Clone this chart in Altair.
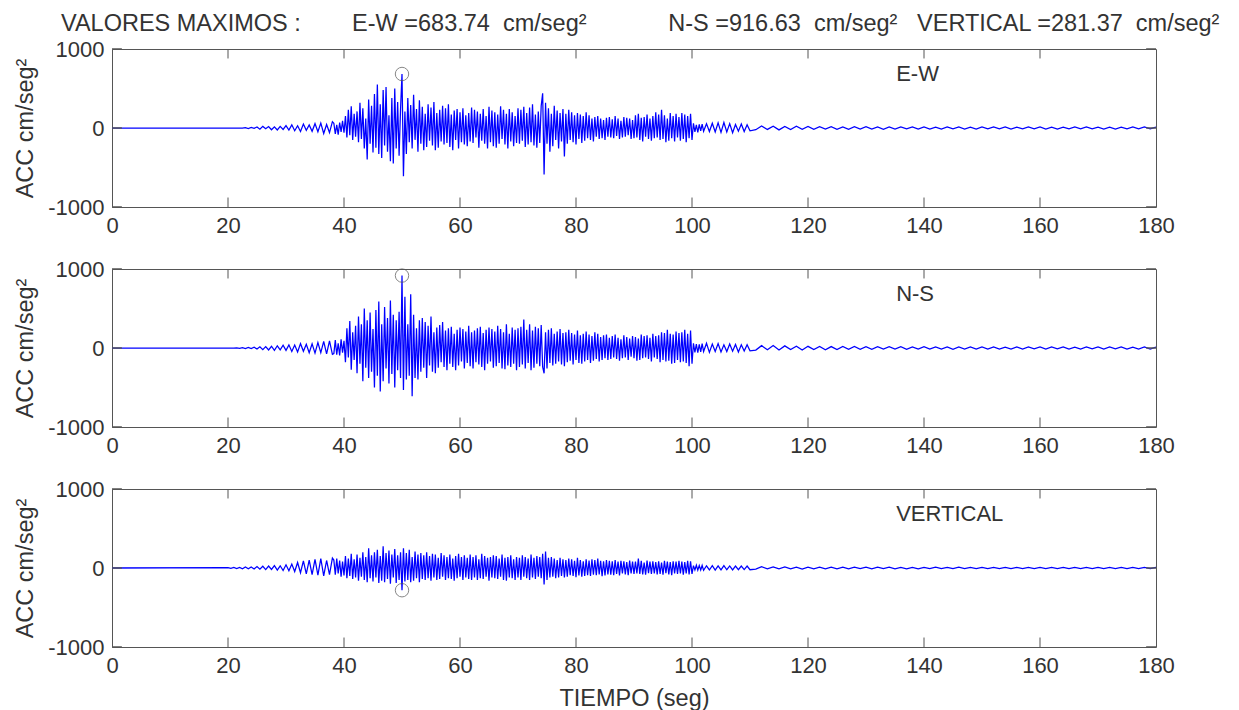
import altair as alt
import pandas as pd

# ---------------- data ----------------
# sampling grid: t=0; every 0.5 s from 20 to 38 s; every 0.25 s from 38.25 to 102 s;
# every 0.5 s from 102.5 to 110 s; every 1 s from 111 to 180 s
T = ([0.0]
     + [20 + 0.5 * i for i in range(37)]
     + [38.25 + 0.25 * i for i in range(256)]
     + [102.5 + 0.5 * i for i in range(16)]
     + [float(s) for s in range(111, 181)])

# ---- E-W ----
EW_PRE = [0, 0, 0, 0, 0, 0, 5, -6, 8, -5, 12, -15, 20, -10, 18, -22,
          15, -25, 20, -18, 30, -25, 40, -35, 28, -45, 50, -30, 38, -42,
          55, -48, 62, -70, 45, -58, 80]
EW_MAIN = [
    60, -75, 40, -85, 70, -50, 90, -60, 150, -120, 230, -90, 275, -150, 180, -110,
    210, -180, 320, -140, 250, -260, 120, -400, 360, -200, 280, -310, 430, -250, 550, -330,
    300, -380, 480, -220, 520, -300, 160, -420, 380, -450, 500, -260, 330, -350, 240, 683.74,
    -610, 210, -330, 380, -180, 290, -260, 420, -150, 240, -300, 350, -200, 270, -280, 180,
    -240, 300, -160, 260, -220, 330, -280, 190, -250, 230, -170, 280, -210, 250, -190, 300,
    -240, 170, -280, 220, -150, 240, -260, 200, -180, 250, -210, 160, -230, 190, -170, 260,
    -190, 230, -120, 210, -250, 180, -160, 240, -200, 150, -260, 270, -180, 220, -230, 200,
    -250, 170, -200, 275, -140, 230, -210, 180, -260, 240, -170, 200, -230, 150, -190, 250,
    -200, 230, -160, 270, -240, 190, -210, 260, -180, 300, -220, 170, -250, 210, -190, 280,
    440, -590, 320, -200, 250, -300, 180, -230, 280, -150, 220, -260, 190, -170, 240, -360,
    180, -200, 230, -150, 200, -180, 160, -210, 190, -140, 170, -190, 150, -160, 200, -130,
    160, -150, 120, -170, 140, -110, 150, -140, 120, -130, 100, -150, 130, -110, 140, -120,
    110, -130, 150, -100, 120, -140, 90, -120, 140, -110, 130, -90, 120, -140, 100, -130,
    160, -120, 180, -150, 130, -170, 140, -110, 170, -140, 120, -160, 150, -130, 200, -120,
    170, -150, 230, -140, 160, -180, 120, -160, 190, -130, 150, -170, 180, -120, 140, -160,
    190, -140, 170, -180, 150, -130, 180, -150, 60, -50, 40, -55, 45, -35, 50, -40]
EW_POST = [55, -45, 60, -50, 65, -55, 70, -50, 55, -60, 45, -40, 50, -45, 40, -35]
EW_TAIL = [-22, 25, -18, 22, -24, 19, -20, 22, -17, 19,
           -18, 17, -15, 18, -16, 15, -17, 16, -14, 17,
           -15, 13, -16, 14, -13, 15, -12, 14, -15, 13,
           -13, 12, -14, 13, -12, 14, -13, 12, -13, 15,
           -12, 13, -11, 13, -14, 12, -11, 13, -12, 13,
           -13, 12, -13, 11, -12, 13, -11, 13, -12, 11,
           -13, 12, -13, 11, -12, 13, -11, 13, -12, 11]

# ---- N-S ----
NS_PRE = [0, 0, 0, 3, -4, 5, -6, 8, -7, 10, -12, 15, -20, 18, -25, 22,
          -30, 28, -24, 35, -30, 40, -45, 38, -50, 55, -42, 48, -60, 52,
          -65, 70, -58, 85, -75, 90, -80]
NS_MAIN = [
    -70, 100, -85, 60, -95, 110, -60, 90, -180, 250, -120, 340, -275, 200, -150, 280,
    -320, 400, -200, 300, -420, 500, -250, 350, -380, 450, -300, 240, -500, 480, -350, 590,
    -550, 300, -420, 520, -260, 380, -450, 600, -330, 420, -500, 350, -280, 460, -380, 916.63,
    -530, 650, -400, 300, -350, 680, -610, 420, -380, 250, -400, 350, -300, 380, -250, 330,
    -380, 280, -220, 400, -300, 200, -320, 260, -250, 290, -180, 330, -240, 220, -280, 250,
    -200, 270, -240, 180, -280, 230, -220, 260, -170, 240, -260, 210, -190, 280, -230, 200,
    -260, 220, -180, 250, -210, 270, -240, 190, -280, 230, -200, 260, -170, 240, -250, 210,
    -230, 280, -190, 240, -260, 200, -270, 300, -220, 180, -240, 260, -200, 230, -280, 250,
    -240, 270, -210, 360, -260, 230, -190, 300, -280, 220, -250, 270, -200, 250, -230, 290,
    -240, -320, 200, -260, 230, -190, 250, -220, 180, -200, 210, -170, 240, -210, 190, -230,
    200, -180, 230, -160, 190, -210, 170, -150, 220, -190, 160, -200, 180, -170, 210, -150,
    170, -190, 150, -160, 200, -140, 180, -170, 140, -150, 160, -130, 170, -150, 130, -140,
    150, -120, 170, -140, 130, -160, 110, -130, 160, -120, 140, -150, 120, -110, 150, -130,
    140, -160, 120, -150, 170, -130, 150, -120, 160, -140, 130, -170, 180, -120, 150, -140,
    160, -180, 200, -150, 190, -170, 230, -160, 180, -200, 170, -190, 210, -150, 190, -180,
    200, -170, 230, -190, 180, -230, 220, -200, 60, -55, 50, -60, 45, -50, 55, -45]
NS_POST = [60, -55, 50, -45, 55, -50, 40, -45, 50, -40, 45, -50, 40, -38, 42, -35]
NS_TAIL = [-26, 30, -22, 32, -24, 27, -19, 22, -25, 21,
           -20, 19, -22, 18, -19, 21, -16, 19, -18, 16,
           -16, 18, -15, 17, -14, 16, -17, 14, -15, 17,
           -14, 15, -13, 15, -16, 13, -14, 13, -15, 14,
           -13, 14, -15, 12, -13, 15, -13, 14, -12, 13,
           -14, 13, -12, 15, -13, 12, -14, 13, -12, 13,
           -13, 14, -12, 13, -15, 12, -13, 14, -13, 12]

# ---- VERTICAL ----
VT_PRE = [4, -5, 6, -8, 7, -10, 12, -9, 14, -12, 18, -15, 22, -20, 25, -18,
          30, -26, 28, -32, 40, -35, 50, -45, 70, -60, 90, -75, 100, -85,
          110, -90, 120, -100, 95, -85, 125]
VT_MAIN = [
    100, -85, 120, -70, 95, -110, 80, -95, 150, -130, 120, -100, 180, -140, 110, -120,
    170, -160, 130, -110, 200, -150, 140, -180, 250, -130, 160, -170, 200, -120, 230, -190,
    150, -160, 275, -180, 190, -140, 220, -200, 170, -120, 240, -190, 160, -150, 200, -281.37,
    250, -170, 190, -150, 230, -180, 140, -160, 210, -130, 170, -180, 190, -140, 160, -150,
    200, -130, 150, -160, 180, -120, 170, -150, 130, -140, 190, -110, 160, -150, 140, -130,
    170, -140, 120, -160, 150, -130, 180, -110, 140, -150, 160, -120, 130, -140, 170, -150,
    140, -120, 160, -150, 110, -130, 180, -140, 150, -110, 130, -160, 140, -120, 160, -130,
    150, -140, 120, -110, 170, -150, 130, -160, 140, -120, 160, -130, 110, -150, 140, -120,
    130, -150, 160, -110, 140, -130, 120, -150, 170, -120, 130, -140, 150, -110, 140, -130,
    180, -210, 210, -150, 130, -120, 140, -110, 120, -130, 100, -120, 130, -100, 110, -120,
    100, -110, 120, -90, 110, -100, 90, -115, 130, -95, 100, -110, 85, -100, 110, -90,
    95, -100, 110, -85, 100, -90, 120, -80, 90, -105, 85, -95, 100, -80, 90, -85,
    85, -90, 100, -75, 80, -95, 90, -70, 85, -80, 75, -90, 95, -70, 80, -75,
    80, -70, 120, -75, 90, -80, 70, -85, 95, -65, 80, -75, 85, -70, 75, -80,
    85, -75, 70, -85, 90, -65, 80, -80, 75, -90, 85, -70, 80, -75, 90, -70,
    80, -85, 75, -70, 90, -80, 85, -75, 30, -25, 35, -28, 30, -25, 32, -30]
VT_POST = [28, -25, 30, -26, 28, -24, 30, -22, 26, -25, 24, -22, 25, -20, 24, -22]
VT_TAIL = [-14, 16, -12, 15, -11, 14, -12, 11, -13, 12,
           -11, 12, -10, 12, -10, 11, -12, 10, -9, 11,
           -10, 10, -9, 11, -10, 8, -10, 9, -10, 8,
           -9, 10, -8, 9, -8, 10, -9, 8, -8, 9,
           -8, 8, -9, 7, -8, 8, -7, 8, -8, 7,
           -8, 8, -7, 8, -8, 7, -8, 7, -7, 8,
           -7, 8, -7, 7, -8, 7, -7, 8, -7, 7]

EW = [0] + EW_PRE + EW_MAIN + EW_POST + EW_TAIL
NS = [0] + NS_PRE + NS_MAIN + NS_POST + NS_TAIL
VT = [0] + VT_PRE + VT_MAIN + VT_POST + VT_TAIL

COMPONENTS = ["E-W", "N-S", "VERTICAL"]
SERIES = [EW, NS, VT]
PEAK_T = [50.0, 50.0, 50.0]
PEAK_V = [683.74, 916.63, -281.37]

HEADER_TEXT = ["VALORES MAXIMOS :",
               "E-W =683.74\u00a0\u00a0cm/seg²",
               "N-S =916.63\u00a0\u00a0cm/seg²",
               "VERTICAL =281.37\u00a0\u00a0cm/seg²"]
HEADER_T = [-8.8, 41.4, 95.9, 138.8]
HEADER_Y = 1316
LABEL_T = 135.2
LABEL_Y = 680

X_TICKS = list(range(0, 181, 20))
Y_TICKS = [-1000, 0, 1000]
TICK_LEN_Y = 120    # in cm/seg² units
TICK_LEN_X = 1.7    # in seconds

for s in SERIES:
    assert len(s) == len(T), (len(s), len(T))

# ---------------- style ----------------
FONT = "Liberation Sans"
TXT = "#333333"
FRAME = "#555555"
BLUE = "#0000ff"
W, H = 1044, 158
FS = 22
FS_TITLE = 23.5

xscale = alt.Scale(domain=[0, 180], nice=False, zero=False)
yscale = alt.Scale(domain=[-1000, 1000], nice=False)


def panel(name, vals, pt, pv, bottom, top):
    df = pd.DataFrame({"t": T, "acc": vals})
    xaxis = alt.Axis(values=X_TICKS, ticks=False, tickSize=0, domain=False, grid=False,
                     labelFlush=False, labelOverlap=False, labelPadding=8,
                     labelExpr="toString(datum.value)", titlePadding=10)
    yaxis = alt.Axis(values=Y_TICKS, ticks=False, tickSize=0, domain=False, grid=False,
                     labelFlush=False, labelOverlap=False, labelPadding=8,
                     labelExpr="toString(datum.value)", titlePadding=10)
    xt = "TIEMPO (seg)" if bottom else None
    line = alt.Chart(df).mark_line(color=BLUE, strokeWidth=1.25, clip=True,
                                   strokeJoin="miter").encode(
        x=alt.X("t:Q", scale=xscale, axis=xaxis, title=xt),
        y=alt.Y("acc:Q", scale=yscale, axis=yaxis, title="ACC cm/seg²"),
    )
    peak = alt.Chart(pd.DataFrame({"t": [pt], "acc": [pv]})).mark_point(
        shape="circle", filled=False, size=180, color="#555555", strokeWidth=1
    ).encode(x="t:Q", y="acc:Q")
    label = alt.Chart(pd.DataFrame({"t": [LABEL_T], "acc": [LABEL_Y], "lab": [name]})).mark_text(
        align="left", baseline="middle", font=FONT, fontSize=FS, color=TXT
    ).encode(x="t:Q", y="acc:Q", text="lab:N")

    xt_rows = []
    for v in X_TICKS[1:-1]:
        xt_rows.append({"t": v, "acc": -1000, "acc2": -1000 + TICK_LEN_Y})
        xt_rows.append({"t": v, "acc": 1000, "acc2": 1000 - TICK_LEN_Y})
    xticks = alt.Chart(pd.DataFrame(xt_rows)).mark_rule(color=FRAME, strokeWidth=1).encode(
        x="t:Q", y="acc:Q", y2="acc2:Q")
    yt_rows = []
    for v in Y_TICKS:
        yt_rows.append({"t": 0, "t2": TICK_LEN_X, "acc": v})
        yt_rows.append({"t": 180, "t2": 180 - TICK_LEN_X, "acc": v})
    yticks = alt.Chart(pd.DataFrame(yt_rows)).mark_rule(color=FRAME, strokeWidth=1.5).encode(
        x="t:Q", x2="t2:Q", y="acc:Q")

    layers = [line, xticks, yticks, peak, label]
    if top:
        hdr = alt.Chart(pd.DataFrame({"t": HEADER_T, "acc": [HEADER_Y] * 4, "lab": HEADER_TEXT})).mark_text(
            align="left", baseline="middle", font=FONT, fontSize=FS_TITLE, color=TXT
        ).encode(x="t:Q", y="acc:Q", text="lab:N")
        layers.append(hdr)
    return alt.layer(*layers).properties(width=W, height=H)


panels = [panel(COMPONENTS[i], SERIES[i], PEAK_T[i], PEAK_V[i], i == 2, i == 0) for i in range(3)]

chart = alt.vconcat(*panels, spacing=62, bounds="flush").properties(
    padding={"top": 3, "left": 5, "right": 0, "bottom": 0}
).configure(font=FONT).configure_view(
    stroke=FRAME, strokeWidth=1
).configure_axis(
    labelFont=FONT, labelFontSize=FS, labelColor=TXT,
    titleFont=FONT, titleFontSize=FS_TITLE, titleColor=TXT, titleFontWeight="normal"
)

chart.save("out.html", embed_options={"renderer": "svg", "actions": False})
